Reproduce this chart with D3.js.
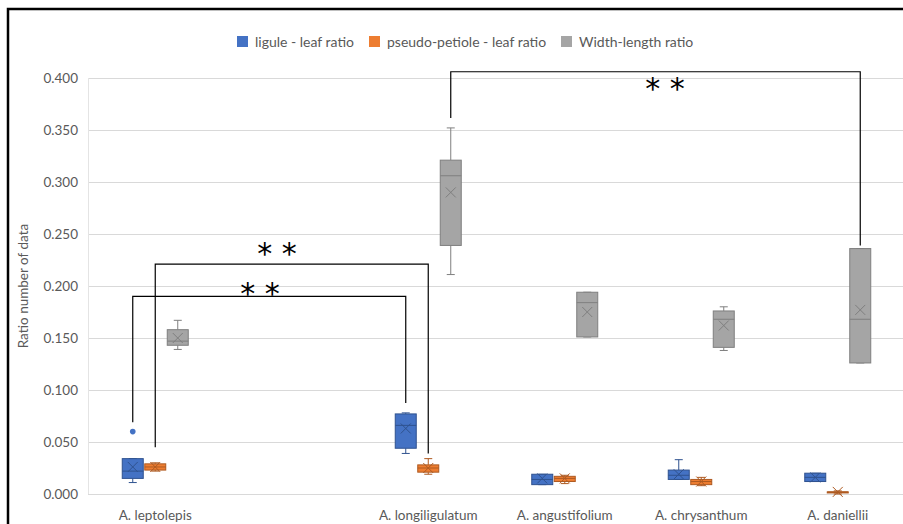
<!DOCTYPE html>
<html>
<head>
<meta charset="utf-8">
<script src="https://cdn.jsdelivr.net/npm/d3@7"></script>
<style>
 body{margin:0;background:#fff;}
 text{font-family:Lato,"Open Sans",sans-serif;}
</style>
</head>
<body>
<div id="vis"></div>
<script>
// categories (the blank one is an empty slot on the axis)
var categories = ["A. leptolepis", "", "A. longiligulatum", "A. angustifolium", "A. chrysanthum", "A. daniellii"];
var seriesNames = ["ligule - leaf ratio", "pseudo-petiole - leaf ratio", "Width-length ratio"];
var seriesColors = ["#4472C4", "#ED7D31", "#A5A5A5"];
var seriesStrokes = ["#2F528F", "#AE5A21", "#7F7F7F"];
var yTicks = [0, 0.05, 0.1, 0.15, 0.2, 0.25, 0.3, 0.35, 0.4];

// [min, q1, median, q3, max, mean] per category
var ligule = [
  [0.011, 0.015, 0.022, 0.034, 0.034, 0.026],
  null,
  [0.039, 0.044, 0.066, 0.077, 0.078, 0.063],
  [0.009, 0.009, 0.014, 0.019, 0.019, 0.015],
  [0.014, 0.014, 0.018, 0.023, 0.033, 0.019],
  [0.012, 0.012, 0.016, 0.020, 0.020, 0.016]
];
var petiole = [
  [0.022, 0.023, 0.026, 0.029, 0.030, 0.026],
  null,
  [0.019, 0.021, 0.025, 0.028, 0.034, 0.025],
  [0.010, 0.012, 0.015, 0.017, 0.018, 0.015],
  [0.008, 0.009, 0.012, 0.014, 0.016, 0.012],
  [0.000, 0.001, 0.002, 0.002, 0.003, 0.002]
];
var widthLength = [
  [0.139, 0.143, 0.147, 0.158, 0.167, 0.150],
  null,
  [0.211, 0.239, 0.306, 0.321, 0.352, 0.290],
  [0.151, 0.151, 0.184, 0.194, 0.194, 0.175],
  [0.138, 0.141, 0.168, 0.176, 0.180, 0.162],
  [0.126, 0.126, 0.168, 0.236, 0.236, 0.177]
];
// outliers: [category index, series index, value]
var outliers = [[0, 0, 0.060]];

// significance brackets: [catA, seriesA, yA, catB, seriesB, yB, yTop]
var brackets = [
  [0, 0, 0.069, 2, 0, 0.0875, 0.190],
  [0, 1, 0.045, 2, 1, 0.039, 0.221],
  [2, 2, 0.3615, 5, 2, 0.239, 0.406]
];
var bracketLabels = ["* *", "* *", "* *"];

var allSeries = [ligule, petiole, widthLength];

var width = 903, height = 524;
var svg = d3.select("#vis").append("svg").attr("width", width).attr("height", height);

var x = d3.scaleBand().domain(d3.range(categories.length)).range([87, 906]);
var y = d3.scaleLinear().domain([0, 0.4]).range([494, 78]);
var offset = 22.5, boxw = 21, capw = 8;
function sx(ci, si){ return x(ci) + x.bandwidth()/2 + (si-1)*offset; }

// outer frame
svg.append("rect").attr("x", 8).attr("y", 9).attr("width", 1000).attr("height", 1000)
   .attr("fill", "none").attr("stroke", "#000").attr("stroke-width", 2.5);

// grid
svg.append("g").selectAll("line").data(yTicks).enter().append("line")
   .attr("x1", 88).attr("x2", 906)
   .attr("y1", function(d){ return Math.round(y(d))+0.5; })
   .attr("y2", function(d){ return Math.round(y(d))+0.5; })
   .attr("stroke", "#d9d9d9").attr("stroke-width", 1);
svg.append("line").attr("x1", 88.5).attr("x2", 88.5).attr("y1", y(0.4)).attr("y2", y(0))
   .attr("stroke", "#e4e4e4");

// y axis labels
var yAxis = d3.axisLeft(y).tickValues(yTicks).tickFormat(d3.format(".3f")).tickSize(0).tickPadding(10);
var ga = svg.append("g").attr("transform", "translate(88,0)").call(yAxis);
ga.select(".domain").remove();
ga.selectAll("text").attr("fill", "#595959").style("font-size", "13.5px").style("font-family", "Lato, sans-serif");

svg.append("text").attr("transform", "translate(28,286) rotate(-90)")
   .attr("text-anchor", "middle").attr("fill", "#595959").style("font-size", "13.5px")
   .text("Ratio number of data");

// x labels
svg.append("g").selectAll("text").data(categories).enter().append("text")
   .attr("x", function(d,i){ return x(i) + x.bandwidth()/2; })
   .attr("y", 520).attr("text-anchor", "middle").attr("fill", "#595959")
   .style("font-size", "13.5px").text(function(d){ return d; });

// boxes
allSeries.forEach(function(ser, si){
  var g = svg.append("g").attr("class", "series" + si);
  ser.forEach(function(d, ci){
    if(!d) return;
    var cx = sx(ci, si);
    var st = seriesStrokes[si];
    // whiskers
    g.append("line").attr("x1", cx).attr("x2", cx).attr("y1", y(d[4])).attr("y2", y(d[3])).attr("stroke", st);
    g.append("line").attr("x1", cx).attr("x2", cx).attr("y1", y(d[1])).attr("y2", y(d[0])).attr("stroke", st);
    [d[0], d[4]].forEach(function(v){
      g.append("line").attr("x1", cx-capw/2).attr("x2", cx+capw/2).attr("y1", y(v)).attr("y2", y(v)).attr("stroke", st);
    });
    g.append("rect").attr("x", cx-boxw/2).attr("width", boxw)
     .attr("y", y(d[3])).attr("height", Math.max(1, y(d[1]) - y(d[3])))
     .attr("fill", seriesColors[si]).attr("stroke", st).attr("stroke-width", 1);
    g.append("line").attr("x1", cx-boxw/2).attr("x2", cx+boxw/2).attr("y1", y(d[2])).attr("y2", y(d[2]))
     .attr("stroke", st);
    // mean marker
    var m = y(d[5]), r = 5;
    g.append("path").attr("d", "M"+(cx-r)+","+(m-r)+"L"+(cx+r)+","+(m+r)+"M"+(cx+r)+","+(m-r)+"L"+(cx-r)+","+(m+r))
     .attr("stroke", st).attr("stroke-width", 1).attr("fill", "none");
  });
});

svg.append("g").selectAll("circle").data(outliers).enter().append("circle")
   .attr("cx", function(d){ return sx(d[0], d[1]); })
   .attr("cy", function(d){ return y(d[2]); })
   .attr("r", 2.8).attr("fill", function(d){ return seriesColors[d[1]]; });

// brackets
var gb = svg.append("g");
brackets.forEach(function(b, i){
  var x1 = sx(b[0], b[1]), x2 = sx(b[3], b[4]), top = y(b[6]);
  gb.append("path")
    .attr("d", "M"+x1+","+y(b[2])+"V"+top+"H"+x2+"V"+y(b[5]))
    .attr("fill", "none").attr("stroke", "#000").attr("stroke-width", 1.2);
});
var starPos = [[260, 0.183], [277, 0.221], [665, 0.380]];
gb.selectAll("text").data(bracketLabels).enter().append("text")
  .attr("x", function(d,i){ return starPos[i][0]; })
  .attr("y", function(d,i){ return y(starPos[i][1]); })
  .attr("text-anchor", "middle").attr("fill", "#000")
  .style("font-family", "'DejaVu Sans', sans-serif").style("font-size", "30px")
  .text(function(d){ return d; });

// legend
var legX = [237, 369, 561];
var lg = svg.append("g");
seriesNames.forEach(function(n, i){
  lg.append("rect").attr("x", legX[i]).attr("y", 36).attr("width", 11).attr("height", 11)
    .attr("fill", seriesColors[i]);
  lg.append("text").attr("x", legX[i] + 18).attr("y", 46.5).attr("fill", "#595959")
    .style("font-size", "14px").text(n);
});
</script>
</body>
</html>
